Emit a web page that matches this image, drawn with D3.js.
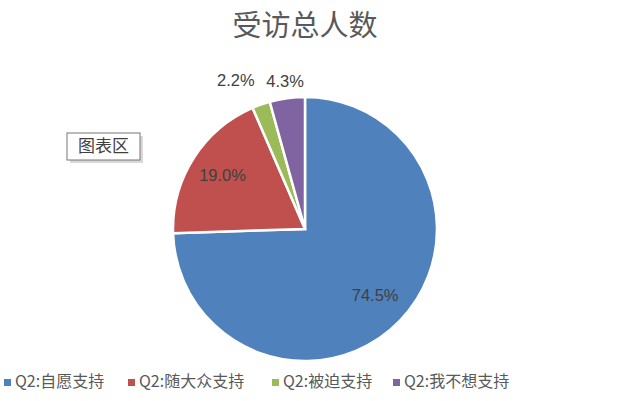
<!DOCTYPE html>
<html>
<head>
<meta charset="utf-8">
<script src="https://cdn.jsdelivr.net/npm/d3@7"></script>
<style>
  body { margin: 0; background: #fff; }
  svg { display: block; font-family: "Noto Sans CJK SC", "Noto Sans", sans-serif; }
</style>
</head>
<body>
<script>
// chart data
var categories = ["Q2:自愿支持", "Q2:随大众支持", "Q2:被迫支持", "Q2:我不想支持"];
var values = [74.5, 19.0, 2.2, 4.3];
var colors = ["#4f81bd", "#c0504d", "#9bbb59", "#8064a2"];
var title = "受访总人数";

var width = 631, height = 401;
var cx = 305, cy = 229, r = 132;

var svg = d3.select("body").append("svg")
    .attr("width", width)
    .attr("height", height);

svg.append("text")
    .text(title)
    .attr("x", 305)
    .attr("y", 36)
    .attr("text-anchor", "middle")
    .attr("font-size", 29)
    .attr("fill", "#595959");

var pie = d3.pie().sort(null).value(function (d) { return d; });
var arcs = pie(values);
var arc = d3.arc().innerRadius(0).outerRadius(r);

var g = svg.append("g").attr("transform", "translate(" + cx + "," + cy + ")");

g.selectAll("path")
    .data(arcs)
    .enter().append("path")
    .attr("d", arc)
    .attr("fill", function (d, i) { return colors[i]; })
    .attr("stroke", "#fff")
    .attr("stroke-width", 2.5);

// label placement: inside for big slices, outside for small ones
var inner = d3.arc().innerRadius(r * 0.74).outerRadius(r * 0.74);
var outer = d3.arc().innerRadius(r * 1.12).outerRadius(r * 1.12);
var nudge = [[0, 0], [0, 0], [-20, -8], [0, 0]];

g.selectAll("text.lbl")
    .data(arcs)
    .enter().append("text")
    .attr("class", "lbl")
    .text(function (d) { return d.data.toFixed(1) + "%"; })
    .attr("transform", function (d, i) {
        var p = d.data > 10 ? inner.centroid(d) : outer.centroid(d);
        p[0] += nudge[i][0];
        p[1] += nudge[i][1];
        return "translate(" + p + ")";
    })
    .attr("text-anchor", "middle")
    .attr("dominant-baseline", "middle")
    .attr("font-family", "Liberation Sans, sans-serif")
    .attr("font-size", 16.5)
    .attr("fill", "#404040");

// "图表区" tooltip box
var tip = svg.append("g").attr("transform", "translate(67,133)");
tip.append("rect")
    .attr("x", 3).attr("y", 3)
    .attr("width", 73).attr("height", 27)
    .attr("fill", "#bfbfbf")
    .attr("opacity", 0.6);
tip.append("rect")
    .attr("width", 73).attr("height", 27)
    .attr("fill", "#fff")
    .attr("stroke", "#767676")
    .attr("stroke-width", 1);
tip.append("text")
    .text("图表区")
    .attr("x", 36.5).attr("y", 14)
    .attr("text-anchor", "middle")
    .attr("dominant-baseline", "middle")
    .attr("font-size", 17)
    .attr("fill", "#404040");

// legend
var legendX = [4, 128, 272, 393];
var legend = svg.selectAll("g.leg")
    .data(categories)
    .enter().append("g")
    .attr("class", "leg")
    .attr("transform", function (d, i) { return "translate(" + legendX[i] + ",383)"; });

legend.append("rect")
    .attr("x", 0).attr("y", -4)
    .attr("width", 7).attr("height", 7)
    .attr("fill", function (d, i) { return colors[i]; });

legend.append("text")
    .text(function (d) { return d; })
    .attr("x", 11)
    .attr("y", 0)
    .attr("dominant-baseline", "middle")
    .attr("font-size", 16)
    .attr("fill", "#595959");
</script>
</body>
</html>
